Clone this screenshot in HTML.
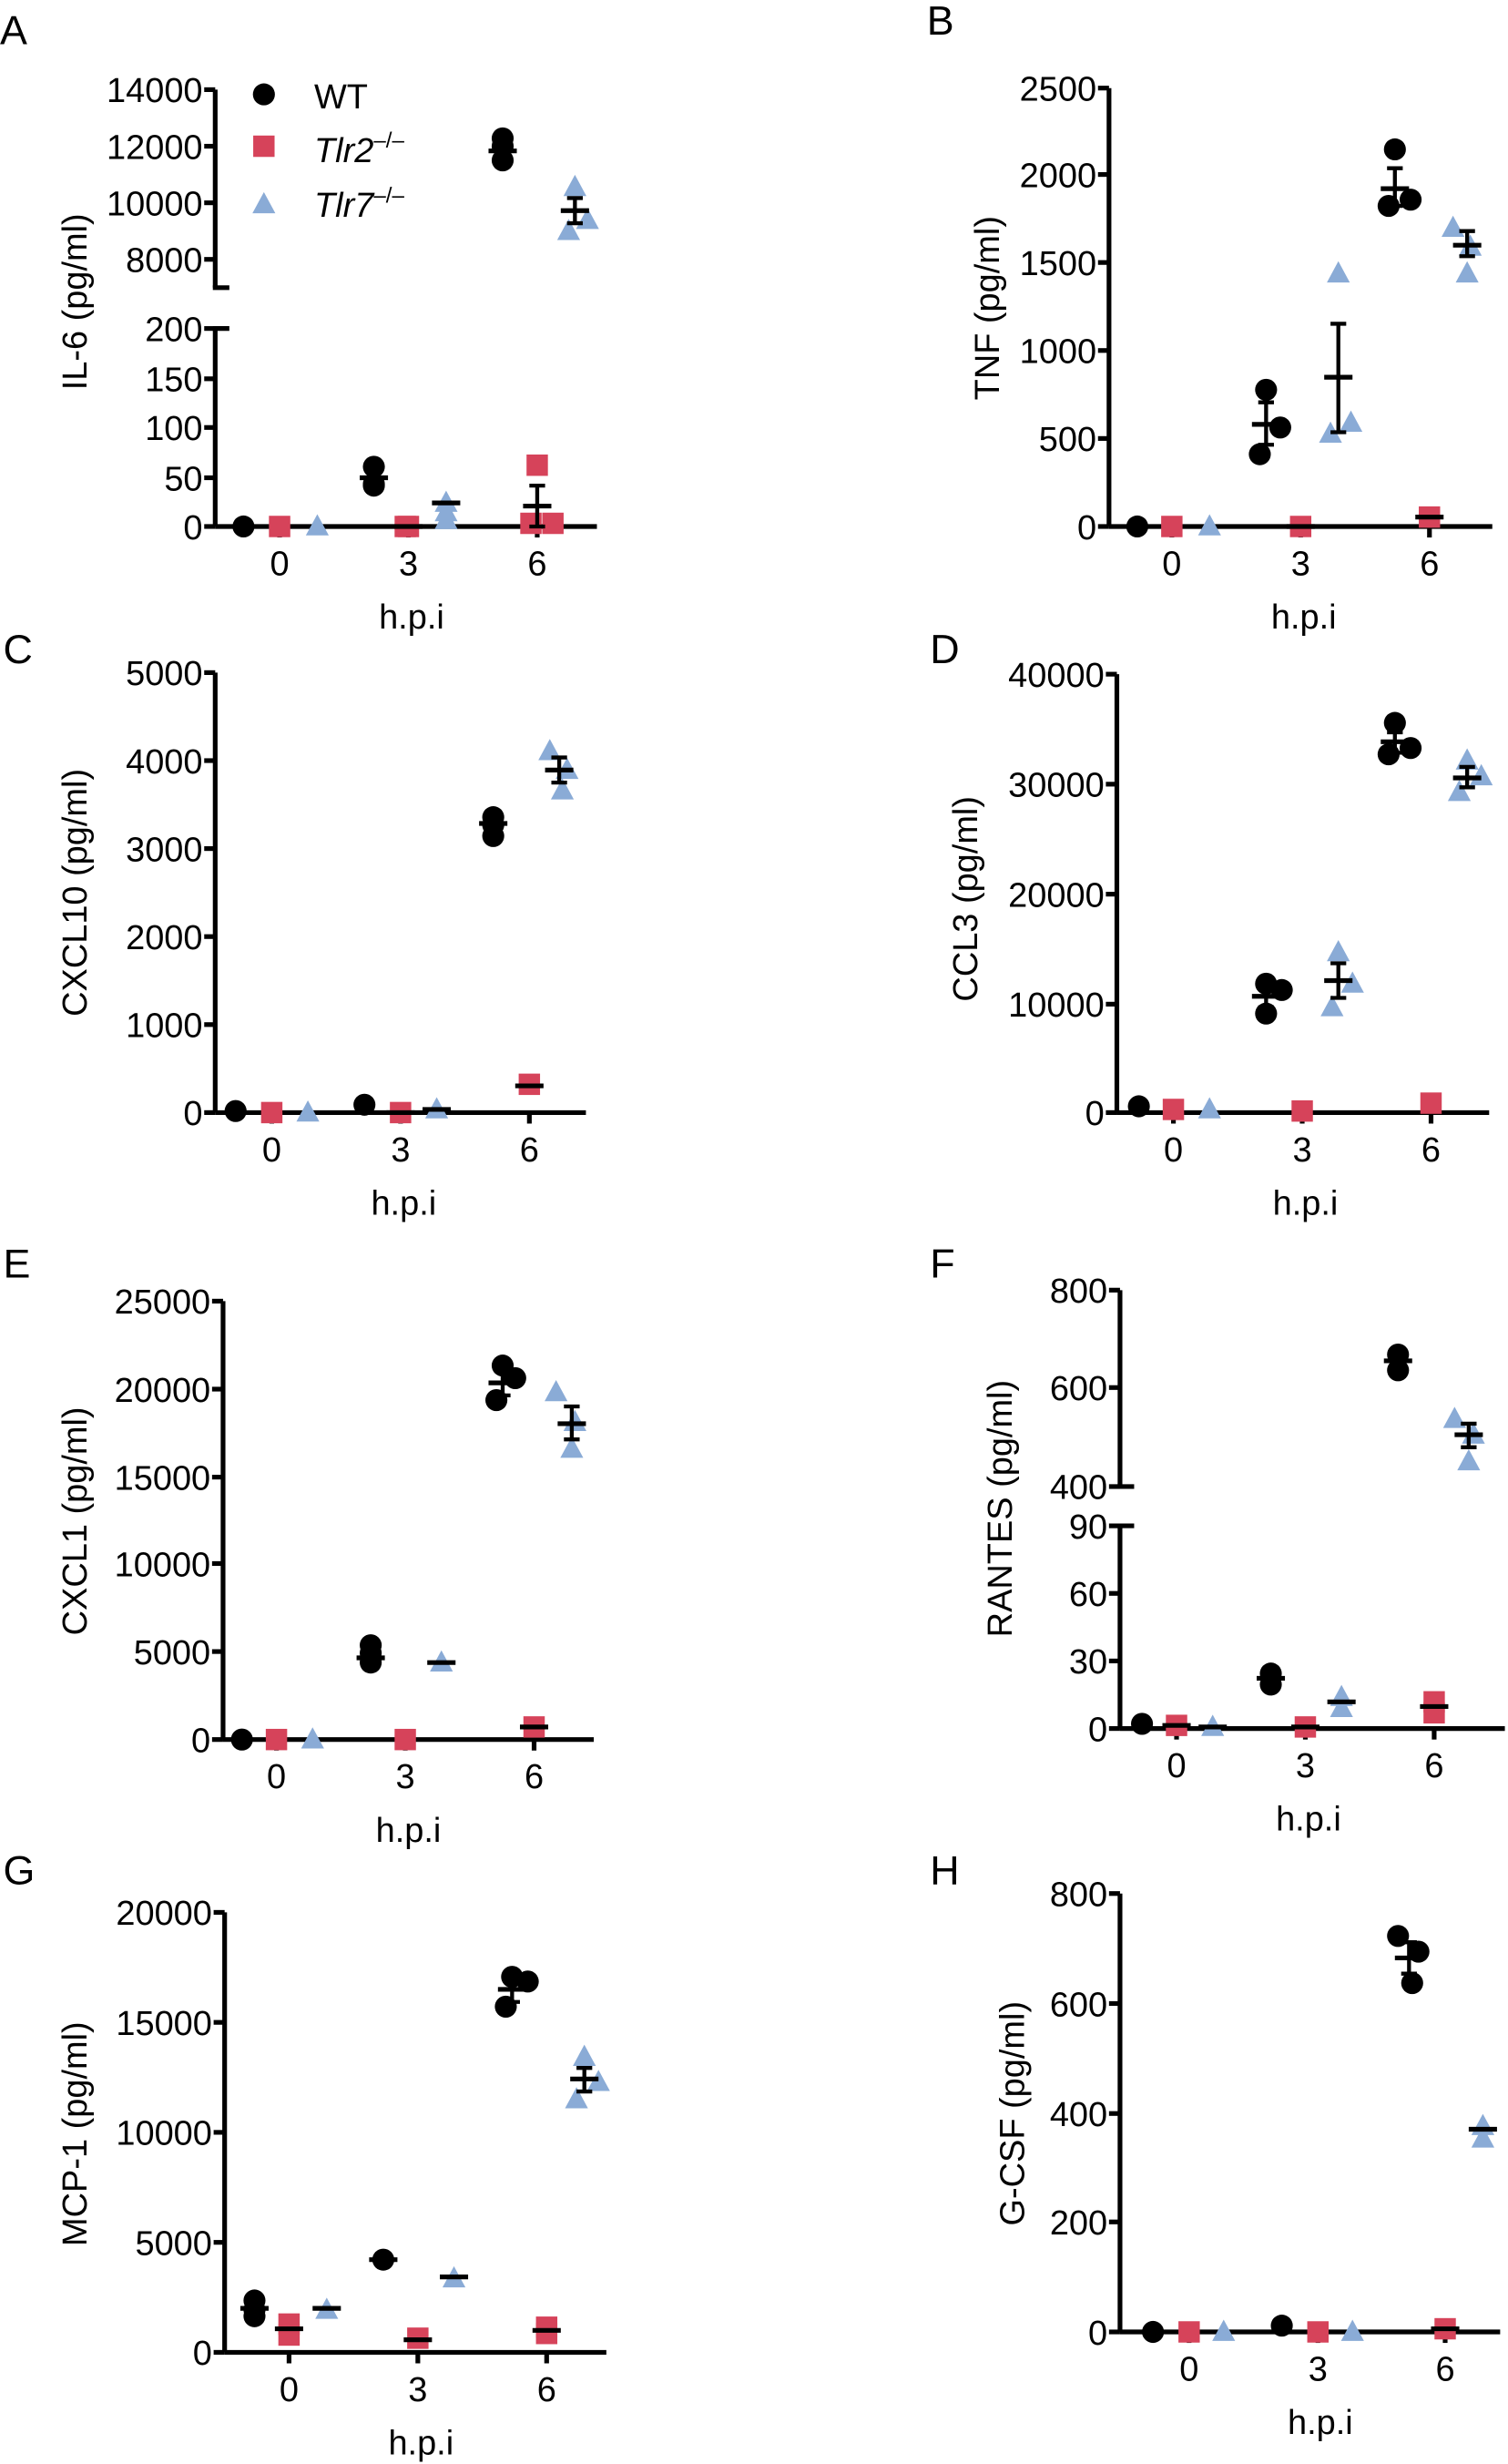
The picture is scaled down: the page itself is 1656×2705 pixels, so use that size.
<!DOCTYPE html>
<html><head><meta charset="utf-8"><style>
html,body{margin:0;padding:0;background:#fff}
svg{display:block}
text{font-family:"Liberation Sans",Arial,sans-serif;fill:#000}
</style></head><body>
<svg id="s" xmlns="http://www.w3.org/2000/svg" width="1656" height="2705" viewBox="0 0 960 1568"></svg>
<script>
const S=document.getElementById('s');let h='';
const R='#d6435a',B='#8aabd6';
function L(x1,y1,x2,y2,w){h+=`<line x1="${x1}" y1="${y1}" x2="${x2}" y2="${y2}" stroke="#000" stroke-width="${w||3}"/>`;}
function T(x,y,t,a,sz,extra){h+=`<text x="${x}" y="${y}" font-size="${sz||22}" text-anchor="${a||'middle'}" ${extra||''}>${t}</text>`;}
function C(x,y){h+=`<circle cx="${x}" cy="${y}" r="7" fill="#000"/>`;}
function Q(x,y){h+=`<rect x="${x-6.8}" y="${y-6.8}" width="13.6" height="13.6" fill="${R}"/>`;}
function Tr(x,y){h+=`<polygon points="${x},${y-7.8} ${x-7.3},${y+5.7} ${x+7.3},${y+5.7}" fill="${B}"/>`;}
function M(x,y,lo,hi){L(x-9,y,x+9,y,3);if(lo!==undefined){L(x,lo,x,hi,2.5);L(x-5,lo,x+5,lo,2.5);L(x-5,hi,x+5,hi,2.5);}}
function axis(o){
  for(const s of o.segs){L(o.ax,s[0],o.ax,s[1]);for(const t of s[2]){L(o.ax-7,t[0],o.ax,t[0]);T(o.ax-8,t[0]+8,t[1],'end');}
    if(s[3])L(o.ax-1.5,s[1],o.ax+9,s[1]);if(s[4])L(o.ax-1.5,s[0],o.ax+9,s[0]);}
  L(o.ax,o.x0y,o.xend,o.x0y);
  ['0','3','6'].forEach((l,i)=>{L(o.xt[i],o.x0y,o.xt[i],o.x0y+7);T(o.xt[i],o.x0y+31,l);});
  T((o.xt[0]+o.xt[2])/2+2,o.x0y+65,'h.p.i');
  h+=`<text x="0" y="0" font-size="22" text-anchor="middle" transform="translate(${o.labx},${o.laby}) rotate(-90)">${o.lab}</text>`;
  T(o.lx,o.ly,o.letter,'start',26);
}
// A
axis({ax:137,segs:[[57,183,[[57,'14000'],[93,'12000'],[129,'10000'],[165,'8000']],1],[209,335,[[209,'200'],[241,'150'],[272,'100'],[304,'50'],[335,'0']],0,1]],
 x0y:335,xend:380,xt:[178,260,342],lab:'IL-6 (pg/ml)',labx:55,laby:192,letter:'A',lx:0,ly:28});
C(168,60);T(200,69,'WT','start');Q(168,93);T(200,103,'<tspan font-style="italic">Tlr2</tspan><tspan font-size="14" dy="-9">–/–</tspan>','start');
Tr(168,130);T(200,138,'<tspan font-style="italic">Tlr7</tspan><tspan font-size="14" dy="-9">–/–</tspan>','start');
C(155,335);Q(178,335);Tr(202,335);
C(238,297);C(238,308);C(238,309);M(238,304);
Q(260,335);Q(258,335);M(260,335);
Tr(284,326);Tr(284,320);Tr(284,331);M(284,320);
C(320,88);C(320,93);C(320,102);M(320,96);
Q(342,296);Q(338,333);Q(352,333);M(342,322,309,335);
Tr(366,119);Tr(362,147);Tr(374,140);M(366,134,126,142);
// B
axis({ax:706,segs:[[56,335,[[56,'2500'],[111,'2000'],[167,'1500'],[223,'1000'],[279,'500'],[335,'0']]]],
 x0y:335,xend:950,xt:[746,828,910],lab:'TNF (pg/ml)',labx:636,laby:196,letter:'B',lx:590,ly:22});
C(724,335);Q(746,335);Tr(770,335);
C(806,248);C(802,289);C(815,272);M(806,270,256,283);
Q(828,335);M(828,335);
Tr(852,174);Tr(847,276);Tr(860,269);M(852,240,206,275);
C(888,95);C(884,131);C(898,127);M(888,120,107,131);
Q(910,329);M(910,329);
Tr(925,145);Tr(934,174);Tr(936,157);M(934,156,147,163);
// C
axis({ax:137,segs:[[428,708,[[428,'5000'],[484,'4000'],[540,'3000'],[596,'2000'],[652,'1000'],[708,'0']]]],
 x0y:708,xend:373,xt:[173,255,337],lab:'CXCL10 (pg/ml)',labx:55,laby:568,letter:'C',lx:2,ly:422});
C(150,707);Q(173,708);Tr(196,708);C(232,703);Q(255,708);M(255,708);Tr(278,706);M(278,706);
C(314,520);C(314,525);C(314,532);M(314,524);
Q(337,690);M(337,691);
Tr(350,478);Tr(358,503);Tr(361,490);M(356,490,482,498);
// D
axis({ax:711,segs:[[429,708,[[429,'40000'],[499,'30000'],[569,'20000'],[639,'10000'],[708,'0']]]],
 x0y:708,xend:948,xt:[747,829,911],lab:'CCL3 (pg/ml)',labx:622,laby:572,letter:'D',lx:592,ly:422});
C(725,704);Q(747,706);Tr(770,706);
C(806,645);C(806,626);C(816,630);M(806,634,627,641);
Q(829,707);
Tr(852,606);Tr(848,641);Tr(861,626);M(852,624,613,635);
C(888,460);C(884,480);C(898,476);M(888,472,466,479);
Q(911,702);
Tr(934,484);Tr(929,504);Tr(943,494);M(934,495,488,501);
// E
axis({ax:142,segs:[[828,1107,[[828,'25000'],[884,'20000'],[940,'15000'],[995,'10000'],[1051,'5000'],[1107,'0']]]],
 x0y:1107,xend:378,xt:[176,258,340],lab:'CXCL1 (pg/ml)',labx:55,laby:968,letter:'E',lx:2,ly:813});
C(154,1107);Q(176,1107);Tr(199,1107);
C(236,1047);C(236,1058);C(236,1052);M(236,1055);
Q(258,1107);
Tr(281,1058);M(281,1058);
C(320,869);C(316,891);C(328,877);M(320,880,872,888);
Q(340,1099);M(340,1099);
Tr(354,886);Tr(364,922);Tr(366,905);M(364,906,895,916);
// F
axis({ax:713,segs:[[821,946,[[821,'800'],[883,'600'],[946,'400']],1],[971,1100,[[971,'90'],[1014,'60'],[1057,'30'],[1100,'0']],0,1]],
 x0y:1100,xend:958,xt:[749,831,913],lab:'RANTES (pg/ml)',labx:644,laby:960,letter:'F',lx:592,ly:813});
C(727,1097);Q(749,1098);M(749,1098);Tr(772,1099);M(772,1099);
C(809,1065);C(809,1072);M(809,1068);
Q(831,1099);M(831,1099);
Tr(854,1080);Tr(854,1087);M(854,1083);
C(890,862);C(890,872);M(890,866);
Q(913,1083);Q(913,1090);M(913,1086);
Tr(926,903);Tr(935,930);Tr(938,913);M(935,913,906,921);
// G
axis({ax:143,segs:[[1217,1497,[[1217,'20000'],[1287,'15000'],[1357,'10000'],[1427,'5000'],[1497,'0']]]],
 x0y:1497,xend:386,xt:[184,266,348],lab:'MCP-1 (pg/ml)',labx:55,laby:1358,letter:'G',lx:2,ly:1199});
C(162,1464);C(162,1470);C(162,1474);M(162,1469);
Q(184,1479);Q(184,1486);M(184,1482);
Tr(208,1470);M(208,1469);
C(244,1438);M(244,1438);
Q(266,1488);M(266,1489);
Tr(289,1450);M(289,1449);
C(326,1258);C(322,1277);C(336,1261);M(326,1266,1260,1274);
Q(348,1481);Q(348,1485);M(348,1483);
Tr(372,1309);Tr(367,1336);Tr(381,1325);M(372,1323,1316,1331);
// H
axis({ax:713,segs:[[1205,1484,[[1205,'800'],[1275,'600'],[1345,'400'],[1414,'200'],[1484,'0']]]],
 x0y:1484,xend:955,xt:[757,839,920],lab:'G-CSF (pg/ml)',labx:652,laby:1345,letter:'H',lx:592,ly:1199});
C(734,1484);Q(757,1484);Tr(779,1484);
C(816,1480);Q(839,1484);Tr(861,1484);
C(890,1232);C(899,1262);C(903,1242);M(897,1246,1236,1256);
Q(920,1482);M(920,1482);
Tr(944,1353);Tr(944,1361);M(944,1355);
S.innerHTML=h;
</script>
</body></html>
